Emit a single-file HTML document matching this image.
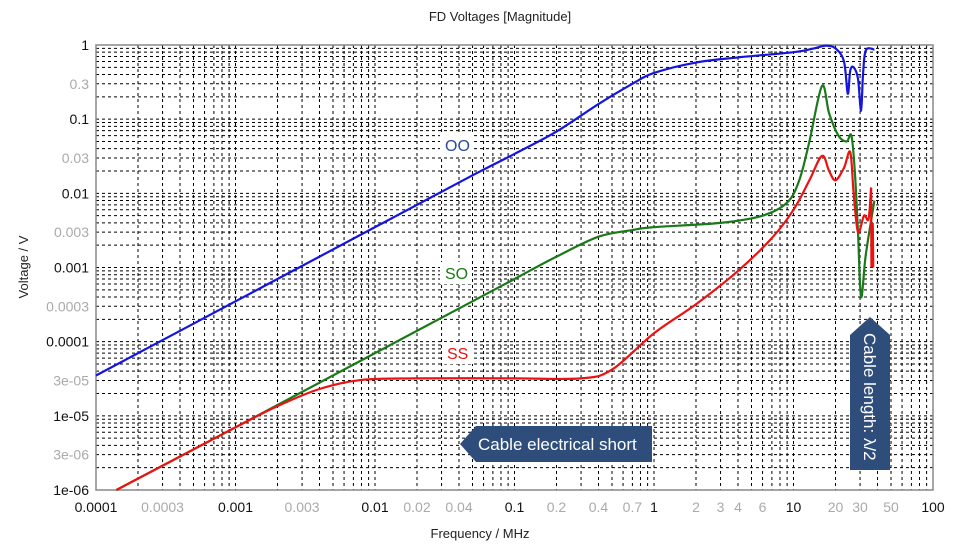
<!DOCTYPE html>
<html><head><meta charset="utf-8"><style>
body{margin:0;background:#fff;width:960px;height:551px;overflow:hidden;font-family:"Liberation Sans",Arial,sans-serif}
</style></head><body>
<svg id="s" width="960" height="551" xmlns="http://www.w3.org/2000/svg" font-family="Liberation Sans, Arial, sans-serif"></svg>
<script>
const s=document.getElementById('s');
const L=96,R=933,T=45,B=490;
const X=f=>L+(Math.log10(f)+4)*(R-L)/6;
const Y=v=>B-(Math.log10(v)+6)*(B-T)/6;
let h='';
h+=`<text x="500" y="21" font-size="13" text-anchor="middle" fill="#222">FD Voltages [Magnitude]</text>`;
for(let d=-4;d<2;d++)for(let k=1;k<=9;k++){const x=X(k*10**d);if(k>1||d>-4)h+=`<line x1="${x}" y1="${T}" x2="${x}" y2="${B}" stroke="#000" stroke-width="1" stroke-dasharray="3,3"/>`;}
for(let d=-6;d<0;d++)for(let k=1;k<=9;k++){const y=Y(k*10**d);if(k>1||d>-6)h+=`<line x1="${L}" y1="${y}" x2="${R}" y2="${y}" stroke="#000" stroke-width="1" stroke-dasharray="3,3"/>`;}
h+=`<rect x="${L}" y="${T}" width="${R-L}" height="${B-T}" fill="none" stroke="#888" stroke-width="1.5"/>`;
const xl=[[0.0001,'0.0001',1],[0.0003,'0.0003',0],[0.001,'0.001',1],[0.003,'0.003',0],[0.01,'0.01',1],[0.02,'0.02',0],[0.04,'0.04',0],[0.1,'0.1',1],[0.2,'0.2',0],[0.4,'0.4',0],[0.7,'0.7',0],[1,'1',1],[2,'2',0],[3,'3',0],[4,'4',0],[6,'6',0],[10,'10',1],[20,'20',0],[30,'30',0],[50,'50',0],[100,'100',1]];
xl.forEach(([f,t,m])=>h+=`<text x="${X(f)}" y="512" font-size="14" text-anchor="middle" fill="${m?'#111':'#aaa'}">${t}</text>`);
const yl=[[1,'1',1],[0.3,'0.3',0],[0.1,'0.1',1],[0.03,'0.03',0],[0.01,'0.01',1],[0.003,'0.003',0],[0.001,'0.001',1],[0.0003,'0.0003',0],[0.0001,'0.0001',1],[3e-5,'3e-05',0],[1e-5,'1e-05',1],[3e-6,'3e-06',0],[1e-6,'1e-06',1]];
yl.forEach(([v,t,m])=>h+=`<text x="89" y="${Y(v)+5}" font-size="14" text-anchor="end" fill="${m?'#111':'#aaa'}">${t}</text>`);
h+=`<text x="480" y="538" font-size="13" text-anchor="middle" fill="#222">Frequency / MHz</text>`;
h+=`<text transform="translate(28,267) rotate(-90)" font-size="13" text-anchor="middle" fill="#222">Voltage / V</text>`;
function path(pts,c){
 const p=pts.map(([f,v])=>[X(f),Y(v)]);let d=`M${p[0][0]},${p[0][1]}`;
 for(let i=0;i<p.length-1;i++){const p0=p[Math.max(0,i-1)],p1=p[i],p2=p[i+1],p3=p[Math.min(p.length-1,i+2)];
  const c1=[p1[0]+(p2[0]-p0[0])/6,p1[1]+(p2[1]-p0[1])/6],c2=[p2[0]-(p3[0]-p1[0])/6,p2[1]-(p3[1]-p1[1])/6];
  d+=`C${c1[0]},${c1[1]} ${c2[0]},${c2[1]} ${p2[0]},${p2[1]}`;}
 h+=`<path d="${d}" fill="none" stroke="${c}" stroke-width="2.2" stroke-linejoin="round"/>`;
}
path([[0.0001,3.5e-5],[0.001,3.5e-4],[0.01,3.5e-3],[0.05,0.0175],[0.1,0.034],[0.2,0.068],[0.4,0.16],[0.7,0.3],[1,0.42],[2,0.58],[4,0.68],[10,0.8],[14,0.9],[17,0.98],[20,0.9],[23,0.6],[24.5,0.22],[25.5,0.45],[27,0.5],[29,0.35],[30.5,0.13],[31.5,0.4],[33,0.85],[38,0.87]],'#1515e0');
path([[0.00014,1e-6],[0.001,7e-6],[0.002,1.4e-5],[0.01,7e-5],[0.05,3.5e-4],[0.1,7e-4],[0.2,1.4e-3],[0.4,2.6e-3],[0.7,3.2e-3],[1,3.5e-3],[3,4e-3],[6,5e-3],[9,7.5e-3],[11,0.015],[13,0.05],[16,0.28],[18,0.12],[21,0.06],[24,0.05],[26,0.06],[27.5,0.02],[29,0.003],[30.5,4e-4],[33,1.5e-3],[38,8e-3]],'#1a7a1a');
path([[0.00014,1e-6],[0.001,7e-6],[0.002,1.35e-5],[0.004,2.3e-5],[0.008,3.05e-5],[0.02,3.2e-5],[0.1,3.2e-5],[0.3,3.2e-5],[0.5,4.2e-5],[1,1.3e-4],[2,3.2e-4],[4,9e-4],[7,2.5e-3],[10,6e-3],[13,0.015],[16,0.032],[18,0.02],[20,0.015],[23,0.022],[25.5,0.036],[27,0.01],[29,3e-3],[32,5e-3],[34.5,4.5e-3],[36,0.012]],'#ee1111');
h+=`<path d="M${X(36)},${Y(0.012)} L${X(36.2)},${Y(0.001)} L${X(37)},${Y(0.004)} L${X(37.3)},${Y(0.001)}" fill="none" stroke="#ee1111" stroke-width="2.2"/>`;
h+=`<rect x="440" y="134" width="34" height="22" fill="#fff"/><text x="445" y="151" font-size="16" fill="#2b4aa0">OO</text>`;
h+=`<rect x="440" y="262" width="32" height="22" fill="#fff"/><text x="445" y="279" font-size="16" fill="#1a7a1a">SO</text>`;
h+=`<rect x="442" y="342" width="32" height="22" fill="#fff"/><text x="447" y="359" font-size="16" fill="#ee1111">SS</text>`;
h+=`<path d="M460,444 L476,426 L652,426 L652,462 L476,462 Z" fill="#2e4d7b"/>`;
h+=`<text x="478" y="450" font-size="17" fill="#fff">Cable electrical short</text>`;
h+=`<path d="M850,335 L870,317 L890,335 L890,470 L850,470 Z" fill="#2e4d7b"/>`;
h+=`<text transform="translate(864,333) rotate(90)" font-size="17" fill="#fff">Cable length: λ/2</text>`;
s.innerHTML=h;
</script>
</body></html>
